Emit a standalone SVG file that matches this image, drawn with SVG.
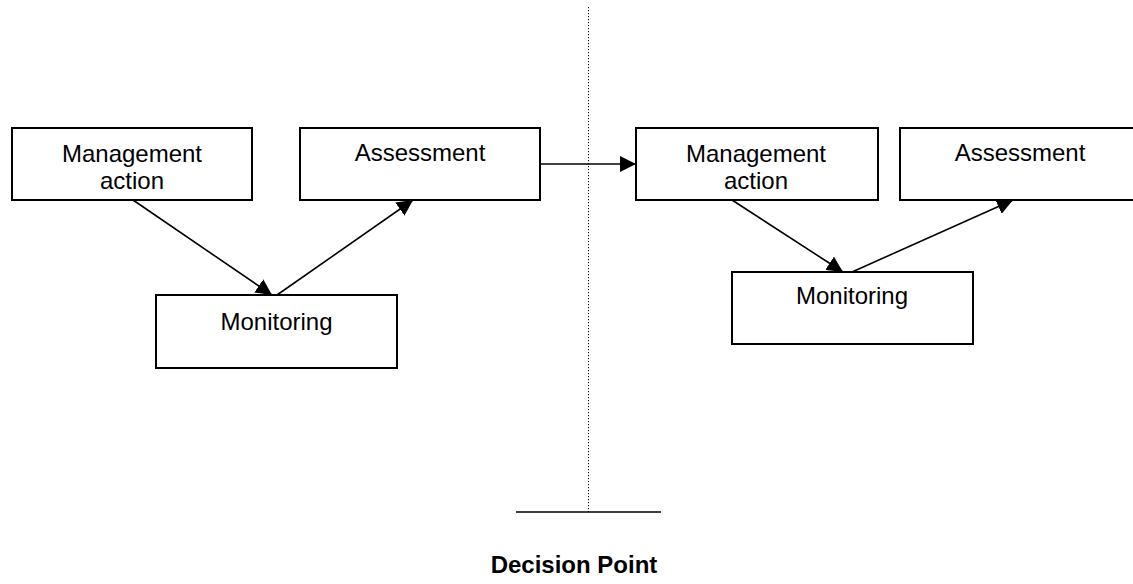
<svg xmlns="http://www.w3.org/2000/svg" width="1133" height="584" viewBox="0 0 1133 584">
  <style>
    .box { fill: #ffffff; stroke: #000000; stroke-width: 2; }
    .label { font-family: "Liberation Sans", Arial, sans-serif; font-size: 24px; fill: #000000; text-anchor: middle; }
    .title { font-family: "Liberation Sans", Arial, sans-serif; font-size: 24px; font-weight: bold; fill: #000000; text-anchor: middle; }
    .edge { fill: none; stroke: #000000; stroke-width: 1.6; marker-end: url(#arrow); }
  </style>
  <defs>
    <marker id="arrow" markerUnits="userSpaceOnUse" markerWidth="16" markerHeight="16" viewBox="0 0 16 16" refX="16" refY="8" orient="auto">
      <path d="M0,0 L16,8 L0,16 Z" fill="#000000"/>
    </marker>
  </defs>

  <rect width="1133" height="584" fill="#ffffff"/>

  <!-- decision point divider -->
  <g id="decision-point">
    <line x1="588.5" y1="7" x2="588.5" y2="512" stroke="#000000" stroke-width="1" stroke-dasharray="1.2,1.8"/>
    <line x1="516" y1="512" x2="661" y2="512" stroke="#000000" stroke-width="1.6"/>
    <text class="title" x="574" y="573">Decision Point</text>
  </g>

  <!-- first cycle -->
  <g id="mgmt-1">
    <rect class="box" x="12" y="128" width="240" height="72"/>
    <text class="label" x="132" y="162">Management</text>
    <text class="label" x="132" y="189">action</text>
  </g>
  <g id="assess-1">
    <rect class="box" x="300" y="128" width="240" height="72"/>
    <text class="label" x="420" y="161">Assessment</text>
  </g>
  <g id="monitor-1">
    <rect class="box" x="156" y="295" width="241" height="73"/>
    <text class="label" x="276.5" y="330">Monitoring</text>
  </g>

  <!-- second cycle -->
  <g id="mgmt-2">
    <rect class="box" x="636" y="128" width="242" height="72"/>
    <text class="label" x="756" y="162">Management</text>
    <text class="label" x="756" y="189">action</text>
  </g>
  <g id="assess-2">
    <rect class="box" x="900" y="128" width="240" height="72"/>
    <text class="label" x="1020" y="161">Assessment</text>
  </g>
  <g id="monitor-2">
    <rect class="box" x="732" y="272" width="241" height="72"/>
    <text class="label" x="852" y="304">Monitoring</text>
  </g>

  <!-- connectors -->
  <g id="connectors">
    <line class="edge" x1="133" y1="200" x2="272" y2="295"/>
    <line class="edge" x1="277" y1="295" x2="413" y2="200"/>
    <line class="edge" x1="540" y1="164" x2="636" y2="164"/>
    <line class="edge" x1="732" y1="200" x2="843" y2="272"/>
    <line class="edge" x1="852" y1="272" x2="1013" y2="200"/>
  </g>
</svg>
